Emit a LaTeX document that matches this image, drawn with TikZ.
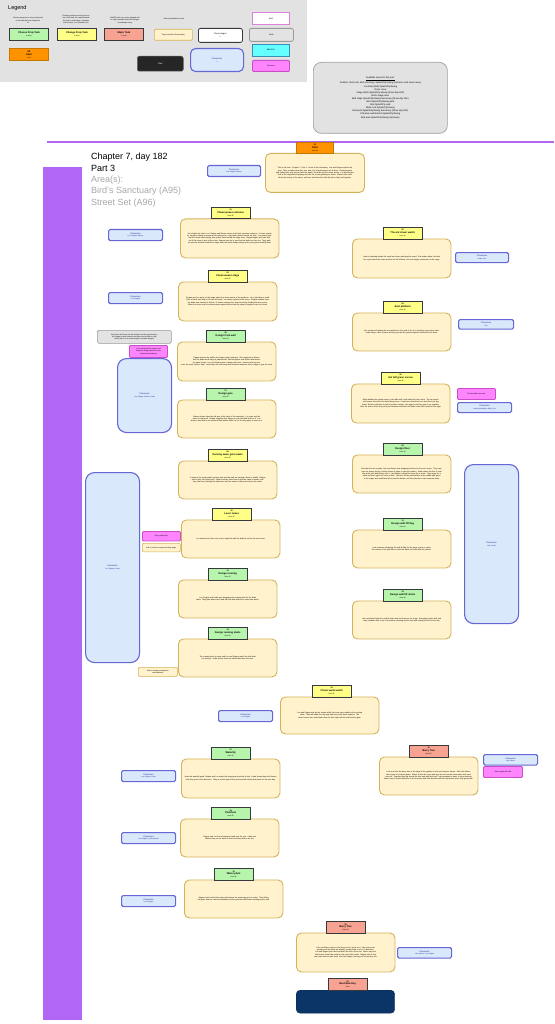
\documentclass[tikz,border=0pt]{standalone}
\usepackage{fontspec}
\setmainfont{Liberation Sans}
\definecolor{bodyF}{HTML}{FFF2CC}
\definecolor{bodyB}{HTML}{D3B35A}
\definecolor{ylwF}{HTML}{FFFF88}
\definecolor{grnF}{HTML}{B7F5AC}
\definecolor{redF}{HTML}{F8A291}
\definecolor{hdrB}{HTML}{36393D}
\definecolor{orgF}{HTML}{FF9200}
\definecolor{orgB}{HTML}{C77600}
\definecolor{chrF}{HTML}{DAE8FC}
\definecolor{chrB}{HTML}{6666D4}
\definecolor{chrT}{HTML}{22228A}
\definecolor{pnkF}{HTML}{FF85FF}
\definecolor{pnkB}{HTML}{C94FC9}
\definecolor{noteF}{HTML}{E3E3E3}
\definecolor{noteB}{HTML}{9A9A9A}
\definecolor{purp}{HTML}{B266F5}
\definecolor{navy}{HTML}{0A3566}
\definecolor{legbg}{HTML}{E2E2E2}
\definecolor{cyanF}{HTML}{66FFFF}
\definecolor{grayT}{HTML}{A8A8A8}
\definecolor{boxG}{HTML}{E2E2E2}
\definecolor{boxGB}{HTML}{A0A0A0}
\newcommand{\hd}[3]{{\fontsize{2}{2.6}\selectfont\bfseries #1}\\{\bfseries #2}\\{\fontsize{1.7}{2.2}\selectfont #3}}
\newcommand{\chrs}[1]{Characters\\{\fontsize{1.7}{2.1}\selectfont #1}}
\newcommand{\scene}[8]{%
\node[body, minimum width=98.5pt, minimum height=#8pt, text width=93pt] (#1b) at (#6,#3+11.5) {#7};
\node[#4] (#1h) at (#2,#3) {#5};}
\newcommand{\bx}[7]{\node[#6, minimum width=#4pt, minimum height=#5pt] (#1) at (#2,#3) {#7};}
\begin{document}
\begin{tikzpicture}[x=1pt,y=-1pt,
  hdr/.style={draw=hdrB, line width=0.9pt, anchor=north west, inner sep=0.3pt, align=center,
    minimum width=38.5pt, minimum height=11.5pt, font=\fontsize{2.5}{2.9}\selectfont},
  hylw/.style={hdr, fill=ylwF},
  hgrn/.style={hdr, fill=grnF},
  hred/.style={hdr, fill=redF},
  horg/.style={hdr, fill=orgF, draw=orgB},
  body/.style={draw=bodyB, fill=bodyF, line width=0.9pt, rounded corners=5pt, anchor=north west,
    inner sep=1pt, align=center, font=\fontsize{1.85}{2.35}\selectfont},
  chr/.style={draw=chrB, fill=chrF, line width=1.1pt, rounded corners=1.5pt, anchor=north west,
    inner sep=0.3pt, align=center, text=chrT, font=\fontsize{2.1}{2.6}\selectfont},
  bigchr/.style={chr, rounded corners=9pt},
  pnk/.style={draw=pnkB, fill=pnkF, line width=0.9pt, rounded corners=1pt, anchor=north west,
    inner sep=0.3pt, align=center, font=\fontsize{1.8}{2.2}\selectfont},
  tag/.style={draw=bodyB, fill=bodyF, line width=0.6pt, rounded corners=1pt, anchor=north west,
    inner sep=0.3pt, align=center, font=\fontsize{1.8}{2.2}\selectfont},
  note/.style={draw=noteB, fill=noteF, line width=0.7pt, rounded corners=1.5pt, anchor=north west,
    inner sep=0.3pt, align=center, font=\fontsize{1.8}{2.2}\selectfont},
  ltxt/.style={align=center, inner sep=0pt, font=\fontsize{1.8}{2.3}\selectfont},
  head/.style={anchor=base west, inner sep=0pt, font=\fontsize{9}{11}\selectfont}
]
\useasboundingbox (0,0) rectangle (554,1024);
\fill[white] (0,0) rectangle (554,1024);
% ---------- legend ----------
\fill[legbg] (0,0) rectangle (307,82);
\node[anchor=base west, inner sep=0pt, font=\fontsize{5.5}{6}\selectfont] (legt) at (8,9.5) {Legend};
\node[ltxt] (l1t) at (28,20.5) {Choose group has a story clearly tied\\to the task that can complete it\\or};
\node[ltxt] (l2t) at (76,19.5) {Change group has a story but not\\one to the task, it's marked beside\\the task to mark what it changes\\at the scene, or in flowchart, etc};
\node[ltxt] (l3t) at (125,20.5) {MAJOR task can not be skipped and\\is a big, impactful task that changes\\something in story};
\node[ltxt] (l4t) at (174,19.5) {Shared perishable events};
\bx{lg1}{9}{28}{39}{12}{hgrn, draw=hdrB}{\textbf{Choose Prop Task}\\{\fontsize{1.6}{2}\selectfont (x Area)}}
\bx{lg2}{57}{28}{39}{12}{hylw}{\textbf{Change Prop Task}\\{\fontsize{1.6}{2}\selectfont (x Area)}}
\bx{lg3}{104}{28}{39}{12}{hred}{\textbf{Major Task}\\{\fontsize{1.6}{2}\selectfont (x Area)}}
\bx{lg4}{9}{48}{39}{12}{horg}{\textbf{00}\\\textbf{Start}\\{\fontsize{1.6}{2}\selectfont Area}}
\bx{lg5}{154}{29}{38}{11}{tag}{Tag to include in flowchart(s)}
\bx{lg6}{198}{28}{44}{14}{draw=hdrB, fill=white, line width=0.8pt, rounded corners=2pt, anchor=north west, align=center, inner sep=0.3pt, font=\fontsize{2.1}{2.6}\selectfont}{Story Images\\{\fontsize{1.6}{2}\selectfont 0}}
\bx{lg7}{137}{56}{46}{15}{draw=black!60, fill=black!85, line width=0.5pt, rounded corners=2pt, anchor=north west, align=center, text=white, font=\fontsize{2.1}{2.6}\selectfont}{Start}
\bx{lg8}{190}{48}{53}{23}{bigchr, rounded corners=5pt}{\chrs{0}}
\bx{lg9}{252}{12}{37}{12}{draw=pnkB!70, fill=white, line width=0.8pt, anchor=north west, align=center, font=\fontsize{2.1}{2.6}\selectfont}{End}
\bx{lg10}{249}{28}{44}{13}{draw=noteB, fill=noteF, line width=0.8pt, rounded corners=2pt, anchor=north west, align=center, font=\fontsize{2.1}{2.6}\selectfont}{Note}
\bx{lg11}{252}{44}{37}{12}{draw=cyan!70!black, fill=cyanF, line width=0.5pt, anchor=north west, align=center, font=\fontsize{2.1}{2.6}\selectfont}{Add Info}
\bx{lg12}{252}{60}{37}{11}{pnk}{Emotions}
% ---------- areas box ----------
\node[draw=boxGB, fill=boxG, line width=0.7pt, rounded corners=8pt, anchor=north west,
  minimum width=134pt, minimum height=71pt] (areas) at (313,62) {};
\node[align=center, inner sep=0pt, font=\fontsize{2.3}{3.1}\selectfont] (areast) at (areas.center)
 {\underline{Available areas for this part:}\\
  Outdoor: Bird cafe, bird sanctuary, Splash/Fly/Swing (entrance and snack area)\\
  1 outside (bird) Splash/Fly/Swing\\
  Trivia: Area\\
  Stage (bird) Splash/Fly Spring (Show day 182)\\
  Bird's stage area\\
  Bird stage Splash/Fly/Swing Sanctuary (Show day 182)\\
  Bird Splash/Fly/Swing walk\\
  Bird Splash/Fly wall\\
  Birds nest Splash/Fly/Swing\\
  Bird park Splash/Fly/Swing Sanctuary (Show day 182)\\
  Entrance wall behind Splash/Fly/Swing\\
  Bird area Splash/Fly/Swing Sanctuary};
% ---------- purple lines ----------
\fill[purp] (47,141) rectangle (554,143);
\fill[purp] (43,167) rectangle (82,1020);
% ---------- heading ----------
\node[head] (h1) at (91,160) {Chapter 7, day 182};
\node[head] (h2) at (91,171.3) {Part 3};
\node[head, text=grayT] (h3) at (91,182.6) {Area(s):};
\node[head, text=grayT] (h4) at (91,193.9) {Bird's Sanctuary (A95)};
\node[head, text=grayT] (h5) at (91,205.2) {Street Set (A96)};
% ---------- start ----------
\node[body, minimum width=99pt, minimum height=39pt, text width=93pt] (s0b) at (265,153)
 {This is the start - Chapter 7, Part 3 - Arrive at the Sanctuary. Lou and Regina explore the area. They consider what they see, and a lot of performance art is there. Getting around and finding their way shows them the sights, the birds and the clown shows. Lou and Regina look at the staged birds playing and see the crowd gathering to watch. Warren tells them about the history of the place, and here and there the birds fly about, high and together.};
\node[horg, minimum width=37pt] (s0h) at (296,142) {\hd{00}{Start}{Area 96}};
\bx{c0}{207}{165}{53}{11}{chr}{\chrs{Lou, Regina, Warren}}
% ---------- left column ----------
\scene{s1}{211}{207}{hylw}{\hd{01}{Clown waves entrance}{Area 95}}{180}{It's a bright day when Lou, Regina and Warren arrive at the bird sanctuary entrance. A clown stands by the gate waving at everyone who passes by, a big smile painted across his face. Lou waves back, and the clown bows deeply, then points them toward the stage area. Regina laughs and asks Warren if the clown is part of the show. Warren says he is, and that the birds love him too. They walk on past the fountain toward the stage while the clown keeps waving at the new guests behind them.}{39}
\bx{c1}{108}{229}{54}{11}{chr}{\chrs{Lou, Regina, Warren}}
\scene{s3}{208}{270}{hylw}{\hd{03}{Clown waves stage}{Area 95}}{178}{Regina and Lou arrive at the stage where the clown waves at the audience. He is joined by a small flock of birds that land on his hat and arms. Lou takes a photo of the scene. Regina wonders how the birds were trained to do that. A worker explains the clown has been feeding them for years. When the show ends the clown waves again and the birds fly away all together over the crowd.}{39}
\bx{c3}{108}{292}{54}{11}{chr}{\chrs{Lou, Regina}}
\scene{s5}{206}{330}{hgrn}{\hd{05}{Design from wall}{Area 95}}{177}{Regina notices the wall by the stage is plain and grey. She suggests to Warren that the birds would enjoy a painted wall. Warren agrees and shows them where the paint is kept. Lou and Regina plan a design with trees, clouds and a big sun.\\Later, they ask Linda to help. Linda says she can bring more brushes tomorrow and is happy to join the work.}{39}
\bx{n5}{97}{330}{74}{13}{note}{Ask Sarah for Clown as this and give us the opportunity to\\let Regina in their humour, the plans are the plan so ask\\about (there is an event request overtime always)}
\bx{p5}{129}{345}{38}{12}{pnk}{Lou's work with the owner and\\Regina's design about the new\\artwork and painting}
\bx{c5}{117}{358}{54}{74}{bigchr}{\chrs{Lou, Regina, Warren, Linda}}
\scene{s7}{206}{388}{hgrn}{\hd{07}{Design gate}{Area 95}}{177}{Warren shows them the old gate at the back of the sanctuary. It is rusty and the paint is coming off. Regina suggests they design a new gate with birds on it. Lou draws a first idea in his notebook and Warren likes it a lot, so they agree to start on it.}{38}
\scene{s9}{208}{449}{hylw}{\hd{09}{Nursing swan gets meals}{Area 95}}{178}{A swan in the small pond has been hurt and the staff are nursing it back to health. Regina asks if they can help feed it. Warren shows them how to give the swan its meals, and they take turns through the afternoon until the swan is calm and rests by the water.}{38}
\bx{c9}{85}{472}{54}{190}{bigchr}{\chrs{Lou, Regina, Linda}}
\scene{s10}{212}{508}{hylw}{\hd{10}{Lever raises}{Area 95}}{181}{Lou watches the lever rise as the stage lifts and the birds fly out for the next show.}{38}
\bx{p10}{142}{531}{38}{9.5}{pnk}{Enjoy stage ride}
\bx{t10}{142}{543}{38}{8.5}{tag}{Ask to mention a special hobby stage}
\scene{s12}{208}{568}{hgrn}{\hd{12}{Design running}{Area 95}}{178}{Lou, Regina and Linda start designing the running track for the birds show. They plan where each bird will land and where the crowd can watch.}{38}
\scene{s14}{208}{627}{hgrn}{\hd{14}{Design running starts}{Area 95}}{178}{The running track is ready and Lou and Regina watch the first birds run along it. Linda cheers when the fastest bird wins the race.}{38}
\bx{t14}{138}{667}{39}{9}{tag}{Ask to mention preparation\\world disaster}
% ---------- right column ----------
\scene{s2}{383}{227}{hylw}{\hd{02}{The ant clown watch}{Area 96}}{352}{Linda is standing beside the small ant clown watching the crowd. She smiles when Lulu tells her a joke about the clown and his hat full of birds, and Lulu laughs and points at the stage.}{39}
\bx{c2}{455}{252}{53}{10}{chr}{\chrs{Linda, Lulu}}
\scene{s4}{383}{301}{hylw}{\hd{04}{Auto platform}{Area 96}}{352}{Lulu continues building the auto platform in the yard of the set, checking every piece twice. Linda brings a box of parts and they put the last panels together before the next show.}{38}
\bx{c4}{458}{319}{55}{9.5}{chr}{\chrs{Lulu}}
\scene{s6}{381}{372}{hylw}{\hd{06}{Set full green screen}{Area 96}}{351}{While building the green screen, Lulu talks with Linda about the next shoot. The set needs a full green screen for the birds flying scene. Linda has a friend who can lend them the big frame, but they will have to pick it up after closing. Lulu agrees and they plan to go together.\\After the work is done they sit by the fountain and watch the birds come back home for the night.}{39}
\bx{p6}{457}{388}{38}{11}{pnk}{Excited with new work}
\bx{c6}{457}{402}{54}{10}{chr}{\chrs{Linda (probabilities field), Lulu}}
\scene{s8}{383}{443}{hgrn}{\hd{08}{Design floor}{Area 96}}{352}{Now that the set is ready, Lulu and Sarah start designing the floor for the next scene. They measure the space and lay out big sheets of paper to plan the pattern. Sarah wants the floor to look like water with birds flying over it. Lulu thinks it should be more like a forest. They argue for a while and then agree on a mix of both. The floor will be painted blue in the middle with green at the edges and small birds all around the border, and they decide to start tomorrow early.}{38}
\scene{s11}{383}{518}{hgrn}{\hd{11}{Design wall lift flag}{Area 96}}{352}{Lulu continues designing the wall lift flag for the stage, trying to match the colours of the new floor so that the whole set looks like one picture.}{38}
\scene{s13}{383}{589}{hgrn}{\hd{13}{Design wall lift sticks}{Area 96}}{352}{Lulu and Sarah finish the wall lift sticks and test them on the stage. Everything works well, and they celebrate with a cup of tea before cleaning up the tools and closing the set for the day.}{38}
\bx{c8}{464}{464}{54}{159}{bigchr}{\chrs{Lulu, Sarah}}
% ---------- lower part ----------
\scene{s15}{312}{685}{hylw}{\hd{15}{Clown waits watch}{Area 95}}{280}{Lou and Regina wait by the stands while the clown gets ready for the evening show. They talk about the day and what they have done together. The clown comes over and thanks them for their help with the wall and the gate.}{37}
\bx{c15}{218}{710}{54}{11}{chr}{\chrs{Lou, Regina}}
\scene{s16}{409}{745}{hred}{\hd{16}{Berry Tree}{Area 96}}{379}{Lulu sees that the berry tree at the edge of the garden is sick and losing its leaves. She calls Marco, who knows a lot about plants. Marco checks the roots and says the tree needs more water and some new soil. Together they dig around the tree and add fresh soil. Lulu promises to water it every morning. Marco says it should be better in a few weeks and that the birds will love the berries when they grow back.}{38}
\bx{c16}{483}{754}{54}{10.5}{chr}{\chrs{Lulu, Marco}}
\bx{p16}{483}{766}{39}{11}{pnk}{Marco quiet with talk}
\scene{s17}{211}{747}{hgrn}{\hd{17}{Waterlily}{Area 95}}{181}{Near the waterlily pond, Regina and Lou watch the frogs jump from leaf to leaf. Linda shows them the flowers that only open in the afternoon. They sit at the edge of the pond and talk about their plans for the next day.}{39}
\bx{c17}{121}{770}{54}{11}{chr}{\chrs{Lou, Regina, Linda}}
\scene{s18}{211}{807}{hgrn}{\hd{18}{Pinwheel}{Area 95}}{180}{Regina and Lou find a pinwheel stand near the exit. Linda and Warren buy one for each of them and they walk to the car.}{38}
\bx{c18}{121}{832}{54}{11}{chr}{\chrs{Lou, Regina, Linda, Warren}}
\scene{s19}{214}{868}{hgrn}{\hd{19}{Water plant}{Area 95}}{184}{Regina and Lou find the water plant where the sanctuary gets its water. They follow the pipes and see how the fountains and the pond are filled each morning by the staff.}{38}
\bx{c19}{121}{895}{54}{11}{chr}{\chrs{Lou, Regina}}
\scene{s20}{326}{921}{hred}{\hd{20}{Berry Tree}{Area 96}}{296}{Lulu and Marco return to the berry tree to check on it. New leaves are growing and the birds are already coming back to sit in its branches.\\Lou and Regina join them and hear the story of the tree. Marco says the first berries should be ready by the end of the month. Regina asks if they can come back to taste them, and Lulu laughs and says of course they can.}{39}
\bx{c20}{397}{947}{54}{10.5}{chr}{\chrs{Lulu, Marco, Lou, Regina}}
\node[draw=navy!80!black, fill=navy, rounded corners=4pt, anchor=north west, minimum width=98.5pt, minimum height=23pt] (s21b) at (296,990) {};
\node[hred] (s21h) at (328,978) {\hd{21}{Next New Day}{Area}};
\end{tikzpicture}
\end{document}
